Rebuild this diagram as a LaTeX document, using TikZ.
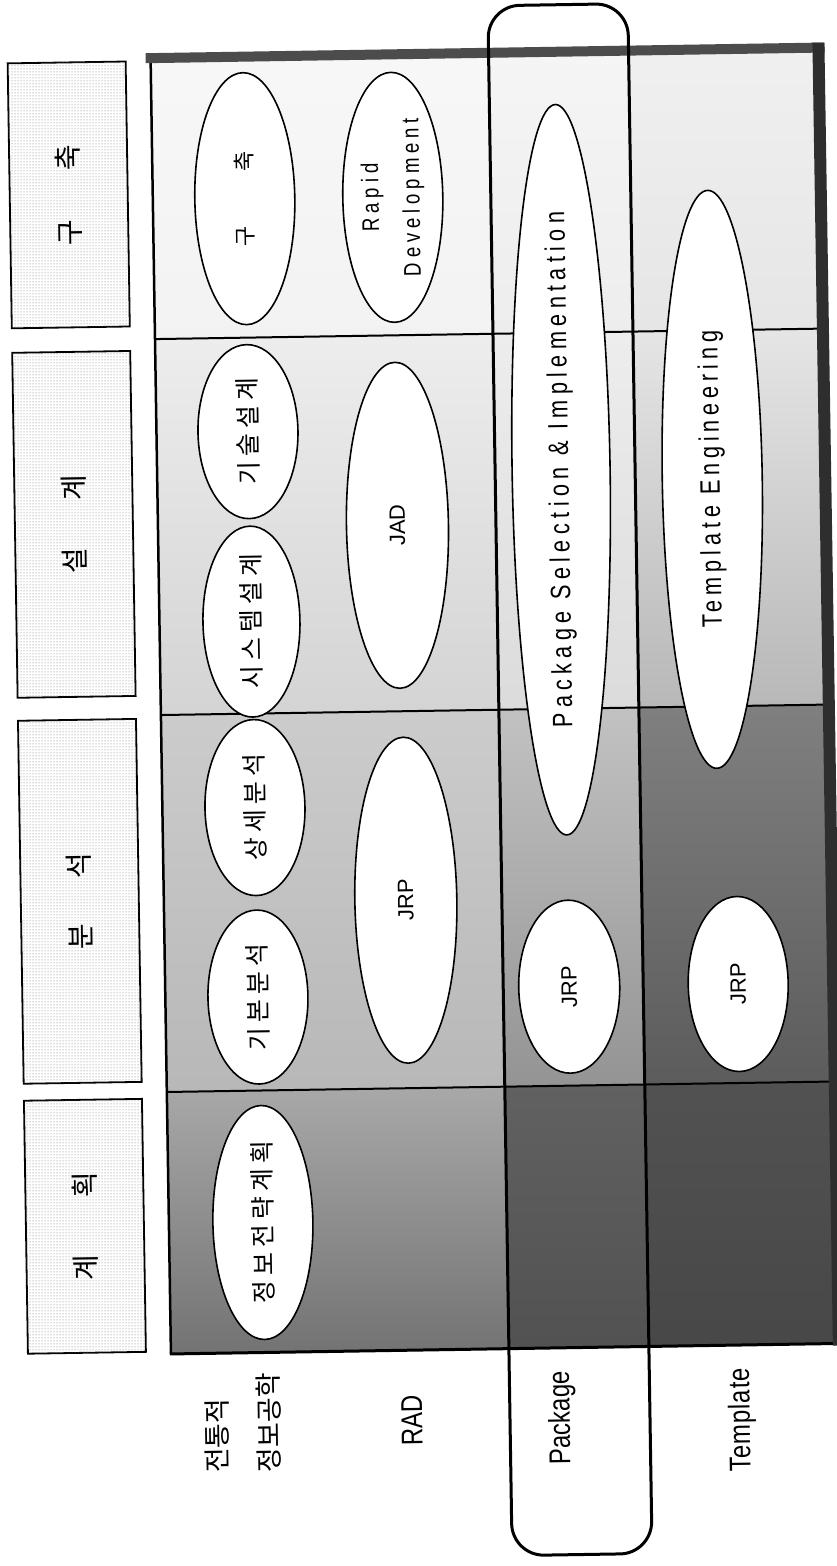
\documentclass[tikz,border=0pt]{standalone}
\usepackage{fontspec}
\setmainfont{Liberation Sans}
\newfontfamily\krfont{Noto Sans CJK KR}
\newfontfamily\krspaced[LetterSpace=20]{Noto Sans CJK KR}
\newfontfamily\narrowA[FakeStretch=0.78,LetterSpace=19]{Liberation Sans}
\newfontfamily\narrowB[FakeStretch=0.78,LetterSpace=17]{Liberation Sans}
\newfontfamily\narrowC[FakeStretch=0.78,LetterSpace=20]{Liberation Sans}
\newfontfamily\narrowL[FakeStretch=0.8]{Liberation Sans}
\newfontfamily\narrowT[FakeStretch=0.8,LetterSpace=3]{Liberation Sans}
\usetikzlibrary{shapes.geometric,patterns}
\begin{document}
\begin{tikzpicture}[x=1pt,y=-1pt,
  oval/.style={ellipse, draw, line width=1.6pt, fill=white, inner sep=0pt, rotate=90},
  hdrbox/.style={draw, line width=1.8pt, fill=white, rotate=90, minimum height=118pt, inner sep=0pt,
     postaction={pattern=dots, pattern color=black!55}, font=\krfont\fontsize{28}{32}\selectfont},
  divider/.style={line width=2pt},
  krtext/.style={font=\krspaced\fontsize{25}{30}\selectfont},
  abbr/.style={font=\fontsize{22}{26}\selectfont},
  lbl/.style={rotate=90, anchor=west, inner sep=0pt}
]
\fill[white] (0,0) rectangle (837,1566);
\useasboundingbox (0,0) rectangle (837,1566);
\begin{scope}[rotate around={0.9:(418,783)}, transform shape]
% header boxes
\node[hdrbox, minimum width=265pt] (h1) at (78,189.5) {구\hspace{49pt}축};
\node[hdrbox, minimum width=345pt] (h2) at (78,519) {설\hspace{47pt}계};
\node[hdrbox, minimum width=363pt] (h3) at (78,896) {분\hspace{45pt}석};
\node[hdrbox, minimum width=253pt] (h4) at (78,1221) {계\hspace{57pt}획};
% table cells (grey scan tones)
\fill[top color=black!3, bottom color=black!5] (162,58) rectangle (500,335);
\fill[top color=black!7, bottom color=black!17] (162,335) rectangle (500,711);
\fill[top color=black!20, bottom color=black!28] (162,711) rectangle (500,1088);
\fill[top color=black!34, bottom color=black!55] (162,1088) rectangle (500,1350);
\fill[top color=black!4, bottom color=black!7] (500,58) rectangle (640,335);
\fill[top color=black!7, bottom color=black!14] (500,335) rectangle (640,711);
\fill[top color=black!24, bottom color=black!42] (500,711) rectangle (640,1088);
\fill[top color=black!62, bottom color=black!68] (500,1088) rectangle (640,1350);
\fill[top color=black!6, bottom color=black!10] (640,58) rectangle (826,335);
\fill[top color=black!10, bottom color=black!28] (640,335) rectangle (826,711);
\fill[top color=black!50, bottom color=black!64] (640,711) rectangle (826,1088);
\fill[top color=black!68, bottom color=black!72] (640,1088) rectangle (826,1350);
% table lines
\draw[divider] (162,335) -- (826,335);
\draw[divider] (162,711) -- (826,711);
\draw[divider] (162,1088) -- (826,1088);
\draw[line width=2.5pt] (162,56) -- (162,1350);
\draw[line width=3pt] (161,1350) -- (832,1350);
\draw[line width=10pt, black!70] (157,54) -- (836,54);
\draw[line width=12pt, black!82] (830,49) -- (830,1352);
% ellipses
\node[oval, minimum width=252pt, minimum height=100pt, font=\krfont\fontsize{22}{24}\selectfont] (e1) at (254,196) {구\hspace{55pt}축};
\node[oval, minimum width=250pt, minimum height=100pt, align=center, font=\narrowC\fontsize{24}{41}\selectfont] (e2) at (402,197) {Rapid\\Development};
\node[oval, minimum width=174pt, minimum height=100pt, krtext] (e3) at (253.5,429) {기술설계};
\node[oval, minimum width=174pt, minimum height=97pt, krtext] (e4) at (254,619) {시스템설계};
\node[oval, minimum width=326pt, minimum height=102pt, abbr] (e5) at (401.5,525) {JAD};
\node[oval, minimum width=176pt, minimum height=100pt, krtext] (e6) at (254.6,805) {상세분석};
\node[oval, minimum width=174pt, minimum height=100pt, krtext] (e7) at (254.6,994.5) {기본분석};
\node[oval, minimum width=326pt, minimum height=102pt, abbr] (e8) at (404,900) {JRP};
\node[oval, minimum width=234pt, minimum height=100pt, krtext] (e9) at (256,1220) {정보전략계획};
\node[oval, minimum width=676pt, minimum height=98pt, font=\narrowA\fontsize{28}{30}\selectfont] (e10) at (566,472) {Package Selection \& Implementation};
\node[oval, minimum width=578pt, minimum height=100pt, font=\narrowB\fontsize{28}{30}\selectfont] (e11) at (717,484) {Template Engineering};
\node[oval, minimum width=173pt, minimum height=101pt, abbr] (e12) at (566,989) {JRP};
\node[oval, minimum width=175pt, minimum height=100pt, abbr] (e13) at (735,989) {JRP};
% package highlight band
\draw[line width=3pt, rounded corners=32pt] (500,7) rectangle (640,1557);
% row labels
\node[lbl, align=left, font=\krfont\fontsize{27}{52}\selectfont] (l1) at (233,1470) {전통적\\정보공학};
\node[lbl, font=\narrowL\fontsize{30}{34}\selectfont] (l2) at (402,1446) {RAD};
\node[lbl, font=\narrowL\fontsize{30}{34}\selectfont] (l3) at (552,1467) {Package};
\node[lbl, font=\narrowT\fontsize{30}{34}\selectfont] (l4) at (732,1477) {Template};
\end{scope}
\end{tikzpicture}
\end{document}
